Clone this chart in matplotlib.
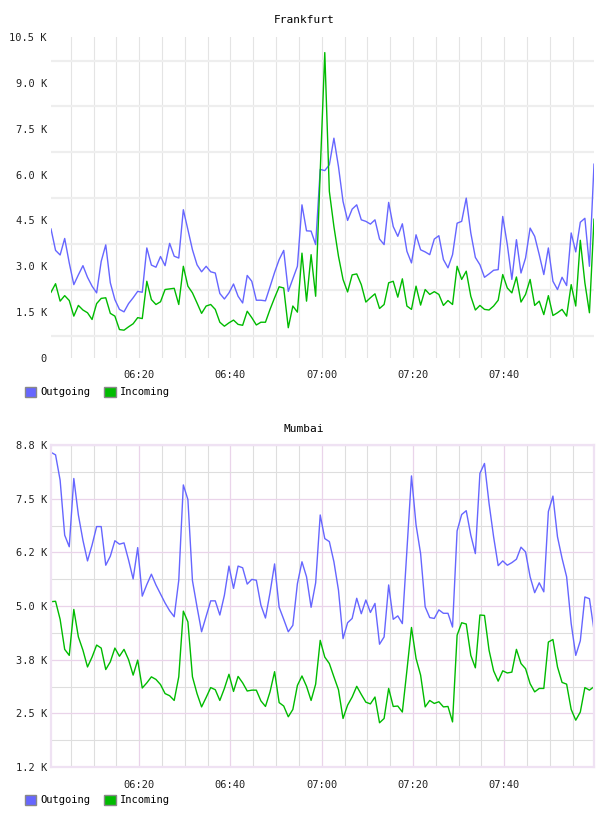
import matplotlib
matplotlib.use("Agg")
import matplotlib.pyplot as plt
import matplotlib.dates as mdates
from matplotlib.patches import Patch
from matplotlib.ticker import FixedLocator, FuncFormatter
import numpy as np
import pandas as pd

plt.rcParams['font.family'] = ['DejaVu Sans Mono']

# one sample per minute, values in thousands
times = pd.date_range("2024-01-01 06:00:40", periods=120, freq="1min")

frankfurt_out = [
    4.22, 3.52, 3.37, 3.91, 3.11, 2.40, 2.72, 3.02, 2.64, 2.35,
    2.13, 3.16, 3.70, 2.46, 1.91, 1.59, 1.51, 1.78, 1.97, 2.18,
    2.15, 3.60, 3.04, 2.97, 3.32, 3.02, 3.75, 3.33, 3.27, 4.85,
    4.20, 3.54, 3.05, 2.82, 3.00, 2.82, 2.78, 2.11, 1.93, 2.13,
    2.42, 2.02, 1.80, 2.70, 2.51, 1.89, 1.89, 1.87, 2.33, 2.80,
    3.22, 3.52, 2.18, 2.59, 3.00, 5.01, 4.16, 4.15, 3.71, 6.17,
    6.13, 6.32, 7.19, 6.26, 5.12, 4.50, 4.87, 5.01, 4.52, 4.47,
    4.38, 4.52, 3.89, 3.71, 5.09, 4.30, 3.98, 4.39, 3.49, 3.11,
    4.03, 3.54, 3.47, 3.38, 3.89, 4.00, 3.22, 2.95, 3.38, 4.41,
    4.47, 5.23, 4.09, 3.29, 3.05, 2.64, 2.75, 2.87, 2.89, 4.63,
    3.71, 2.57, 3.87, 2.78, 3.27, 4.25, 3.98, 3.38, 2.73, 3.60,
    2.51, 2.24, 2.64, 2.37, 4.09, 3.47, 4.44, 4.57, 3.00, 6.34,
]
frankfurt_in = [
    2.15, 2.43, 1.86, 2.04, 1.88, 1.37, 1.72, 1.57, 1.48, 1.26,
    1.78, 1.95, 1.97, 1.46, 1.37, 0.93, 0.91, 1.02, 1.12, 1.32,
    1.29, 2.51, 1.91, 1.75, 1.84, 2.24, 2.26, 2.28, 1.75, 3.00,
    2.35, 2.13, 1.80, 1.46, 1.70, 1.75, 1.59, 1.17, 1.04, 1.15,
    1.24, 1.10, 1.07, 1.53, 1.32, 1.08, 1.17, 1.17, 1.59, 1.97,
    2.33, 2.29, 0.99, 1.70, 1.50, 3.43, 1.86, 3.38, 2.02, 6.10,
    9.99, 5.45, 4.30, 3.33, 2.57, 2.16, 2.72, 2.75, 2.40, 1.83,
    1.97, 2.10, 1.62, 1.75, 2.46, 2.51, 1.99, 2.59, 1.70, 1.59,
    2.35, 1.73, 2.24, 2.08, 2.17, 2.08, 1.72, 1.88, 1.75, 3.00,
    2.57, 2.84, 2.02, 1.57, 1.72, 1.59, 1.57, 1.70, 1.89, 2.73,
    2.29, 2.13, 2.65, 1.83, 2.08, 2.57, 1.72, 1.86, 1.42, 2.04,
    1.39, 1.48, 1.59, 1.37, 2.40, 1.70, 3.85, 2.46, 1.48, 4.54,
]
mumbai_out = [
    8.58, 8.52, 7.93, 6.65, 6.38, 7.97, 7.12, 6.53, 6.05, 6.42,
    6.85, 6.85, 5.95, 6.16, 6.52, 6.44, 6.47, 6.07, 5.63, 6.36,
    5.23, 5.50, 5.74, 5.49, 5.28, 5.07, 4.89, 4.75, 5.60, 7.82,
    7.48, 5.59, 4.98, 4.40, 4.76, 5.12, 5.12, 4.79, 5.25, 5.93,
    5.41, 5.93, 5.89, 5.51, 5.62, 5.60, 5.02, 4.72, 5.31, 5.98,
    4.97, 4.69, 4.40, 4.55, 5.52, 6.03, 5.68, 4.97, 5.54, 7.12,
    6.57, 6.50, 6.03, 5.37, 4.24, 4.61, 4.71, 5.18, 4.82, 5.14,
    4.85, 5.06, 4.11, 4.28, 5.49, 4.69, 4.77, 4.59, 6.30, 8.03,
    6.89, 6.22, 4.98, 4.73, 4.71, 4.91, 4.83, 4.83, 4.51, 6.75,
    7.13, 7.22, 6.65, 6.22, 8.09, 8.32, 7.39, 6.61, 5.94, 6.05,
    5.95, 6.01, 6.09, 6.37, 6.26, 5.68, 5.31, 5.54, 5.33, 7.20,
    7.56, 6.61, 6.11, 5.68, 4.59, 3.85, 4.19, 5.21, 5.17, 4.44,
]
mumbai_in = [
    5.10, 5.11, 4.69, 3.99, 3.85, 4.92, 4.28, 3.97, 3.58, 3.81,
    4.09, 4.02, 3.52, 3.70, 4.02, 3.83, 3.99, 3.75, 3.39, 3.74,
    3.09, 3.21, 3.35, 3.29, 3.17, 2.96, 2.91, 2.80, 3.35, 4.88,
    4.63, 3.35, 2.96, 2.65, 2.87, 3.10, 3.05, 2.80, 3.08, 3.41,
    3.01, 3.36, 3.21, 3.02, 3.04, 3.04, 2.79, 2.66, 3.00, 3.47,
    2.75, 2.67, 2.42, 2.59, 3.15, 3.37, 3.13, 2.80, 3.18, 4.20,
    3.81, 3.66, 3.35, 3.05, 2.38, 2.69, 2.88, 3.13, 2.94, 2.76,
    2.72, 2.88, 2.28, 2.38, 3.08, 2.66, 2.67, 2.53, 3.50, 4.50,
    3.78, 3.39, 2.65, 2.80, 2.73, 2.77, 2.65, 2.66, 2.30, 4.32,
    4.61, 4.58, 3.85, 3.56, 4.79, 4.78, 3.97, 3.49, 3.25, 3.49,
    3.44, 3.46, 3.99, 3.66, 3.54, 3.19, 3.00, 3.08, 3.08, 4.16,
    4.22, 3.58, 3.22, 3.18, 2.59, 2.34, 2.53, 3.10, 3.04, 3.12,
]

frankfurt_ticks = [0, 1.5, 3.0, 4.5, 6.0, 7.5, 9.0, 10.5]
mumbai_ticks = [1.25, 2.5, 3.75, 5.0, 6.25, 7.5, 8.75]

blue = '#6666ff'
green = '#00bb00'

W, H = 608, 816
fig = plt.figure(figsize=(W / 100, H / 100), dpi=100)


def ax_rect(top, bottom, left=51, right=594):
    return [left / W, 1 - bottom / H, (right - left) / W, (bottom - top) / H]


def kfmt(v, pos):
    if v == 0:
        return '0'
    return '%.1f K' % v


def style_common(ax):
    ax.set_xlim(times[0], times[-1])
    ax.xaxis.set_major_locator(mdates.MinuteLocator(byminute=[0, 20, 40]))
    ax.xaxis.set_major_formatter(mdates.DateFormatter('%H:%M'))
    ax.xaxis.set_minor_locator(mdates.MinuteLocator(byminute=range(0, 60, 5)))
    ax.yaxis.set_major_formatter(FuncFormatter(kfmt))
    ax.tick_params(which='both', length=0, labelsize=7.5, colors='#222222')
    ax.tick_params(axis='x', pad=9)
    ax.tick_params(axis='y', pad=3)
    ax.set_axisbelow(True)


def add_legend(y):
    handles = [Patch(facecolor=blue, edgecolor='#888888', label='Outgoing'),
               Patch(facecolor=green, edgecolor='#888888', label='Incoming')]
    fig.legend(handles=handles, loc='center left', ncol=2, frameon=False,
               bbox_to_anchor=(25 / W, 1 - y / H), borderpad=0, borderaxespad=0,
               handlelength=1.1, handleheight=1.1, handletextpad=0.4,
               columnspacing=1.3, fontsize=7.5)


# Frankfurt
ax1 = fig.add_axes(ax_rect(37, 358))
ax1.plot(times, frankfurt_out, color=blue, lw=1.0)
ax1.plot(times, frankfurt_in, color=green, lw=1.0)
ax1.set_ylim(0, 10.5)
ax1.yaxis.set_major_locator(FixedLocator(frankfurt_ticks))
ax1.yaxis.set_minor_locator(FixedLocator([0.73 + 1.5 * k for k in range(7)]))
style_common(ax1)
ax1.grid(True, axis='x', which='both', color='#e4e4e4', lw=0.8)
ax1.grid(True, axis='y', which='minor', color='#eeeeee', lw=1.6)
for s in ax1.spines.values():
    s.set_visible(False)
fig.text(0.5, 1 - 20 / H, 'Frankfurt', ha='center', va='center', fontsize=8)
add_legend(392)

# Mumbai
ax2 = fig.add_axes(ax_rect(445, 767))
ax2.plot(times, mumbai_out, color=blue, lw=1.0)
ax2.plot(times, mumbai_in, color=green, lw=1.0)
ax2.set_ylim(1.25, 8.75)
ax2.yaxis.set_major_locator(FixedLocator(mumbai_ticks))
ax2.yaxis.set_minor_locator(FixedLocator([1.875 + 1.25 * k for k in range(6)]))
style_common(ax2)
ax2.grid(True, which='minor', color='#dedede', lw=0.8)
ax2.grid(True, which='major', color='#ead4ea', lw=0.9)
for s in ax2.spines.values():
    s.set_color('#efe2f3')
    s.set_linewidth(1.6)
fig.text(0.5, 1 - 429 / H, 'Mumbai', ha='center', va='center', fontsize=8)
add_legend(800)

fig.savefig('out.png', dpi=100, facecolor='white')
